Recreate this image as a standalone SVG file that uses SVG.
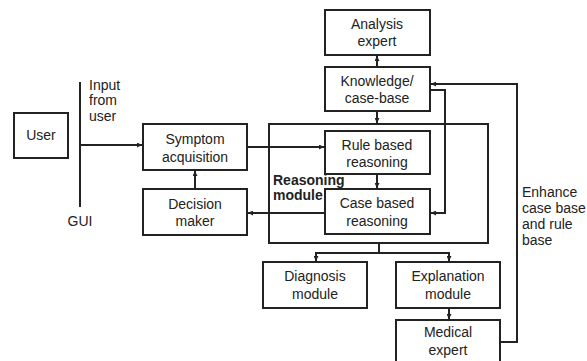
<svg xmlns="http://www.w3.org/2000/svg" width="587" height="361" viewBox="0 0 587 361">
<defs>
<style>
.box{fill:#fff;stroke:#222;stroke-width:2}
.t{font-family:"Liberation Sans",Arial,sans-serif;font-size:14px;fill:#222;text-anchor:middle}
.tl{font-family:"Liberation Sans",Arial,sans-serif;font-size:14px;fill:#222}
.b{font-weight:bold}
.c{fill:none;stroke:#222;stroke-width:2}
</style>
<marker id="ah" viewBox="0 0 8 8" refX="8" refY="4" markerWidth="5" markerHeight="5" orient="auto" markerUnits="userSpaceOnUse">
<path d="M0,0 L8,4 L0,8 z" fill="#222"/>
</marker>
</defs>
<rect width="587" height="361" fill="#fff"/>
<g id="reasoning-module">
<rect class="box" x="269" y="124" width="219" height="119"/>
<text class="tl b" x="273" y="185">Reasoning</text>
<text class="tl b" x="273" y="200">module</text>
</g>
<g id="user"><rect class="box" x="14" y="113" width="54" height="45"/><text class="t" x="41" y="140">User</text></g>
<g id="gui">
<line class="c" x1="80" y1="82" x2="80" y2="207"/>
<text class="t" x="80" y="226">GUI</text>
<text class="tl" x="89" y="90">Input</text>
<text class="tl" x="89" y="105">from</text>
<text class="tl" x="89" y="121">user</text>
</g>
<g id="symptom"><rect class="box" x="143" y="124" width="104" height="46"/><text class="t" x="195" y="144">Symptom</text><text class="t" x="195" y="162">acquisition</text></g>
<g id="decision"><rect class="box" x="143" y="189" width="104" height="46"/><text class="t" x="195" y="209">Decision</text><text class="t" x="195" y="226">maker</text></g>
<g id="analysis"><rect class="box" x="325" y="10" width="105" height="45"/><text class="t" x="377" y="29">Analysis</text><text class="t" x="377" y="46">expert</text></g>
<g id="knowledge"><rect class="box" x="325" y="67" width="105" height="44"/><text class="t" x="377" y="86">Knowledge/</text><text class="t" x="377" y="103">case-base</text></g>
<g id="rule"><rect class="box" x="325" y="131" width="105" height="43"/><text class="t" x="377" y="150">Rule based</text><text class="t" x="377" y="167">reasoning</text></g>
<g id="case"><rect class="box" x="325" y="189" width="105" height="45"/><text class="t" x="377" y="208">Case based</text><text class="t" x="377" y="226">reasoning</text></g>
<g id="diagnosis"><rect class="box" x="263" y="262" width="104" height="46"/><text class="t" x="315" y="281">Diagnosis</text><text class="t" x="315" y="299">module</text></g>
<g id="explanation"><rect class="box" x="396" y="262" width="104" height="46"/><text class="t" x="448" y="281">Explanation</text><text class="t" x="448" y="299">module</text></g>
<g id="medical"><rect class="box" x="396" y="320" width="104" height="46"/><text class="t" x="448" y="337">Medical</text><text class="t" x="448" y="355">expert</text></g>
<g id="enhance-label">
<text class="tl" x="522" y="197">Enhance</text>
<text class="tl" x="522" y="213">case base</text>
<text class="tl" x="522" y="229">and rule</text>
<text class="tl" x="522" y="245">base</text>
</g>
<g id="connectors">
<line class="c" x1="80" y1="145" x2="142" y2="145" marker-end="url(#ah)"/>
<line class="c" x1="195" y1="189" x2="195" y2="171" marker-end="url(#ah)"/>
<line class="c" x1="247" y1="147" x2="324" y2="147" marker-end="url(#ah)"/>
<line class="c" x1="377" y1="174" x2="377" y2="188" marker-end="url(#ah)"/>
<line class="c" x1="325" y1="213" x2="248" y2="213" marker-end="url(#ah)"/>
<line class="c" x1="377" y1="67" x2="377" y2="56" marker-end="url(#ah)"/>
<line class="c" x1="377" y1="111" x2="377" y2="123" marker-end="url(#ah)"/>
<polyline class="c" points="430,90 445,90 445,213 431,213" marker-end="url(#ah)"/>
<polyline class="c" points="500,342 517,342 517,84 431,84" marker-end="url(#ah)"/>
<line class="c" x1="379" y1="243" x2="379" y2="253"/>
<polyline class="c" points="316,261 316,253 449,253 449,261" marker-end="url(#ah)"/>
<line class="c" x1="316" y1="253" x2="316" y2="261" marker-end="url(#ah)"/>
<line class="c" x1="449" y1="308" x2="449" y2="319" marker-end="url(#ah)"/>
</g>
</svg>
